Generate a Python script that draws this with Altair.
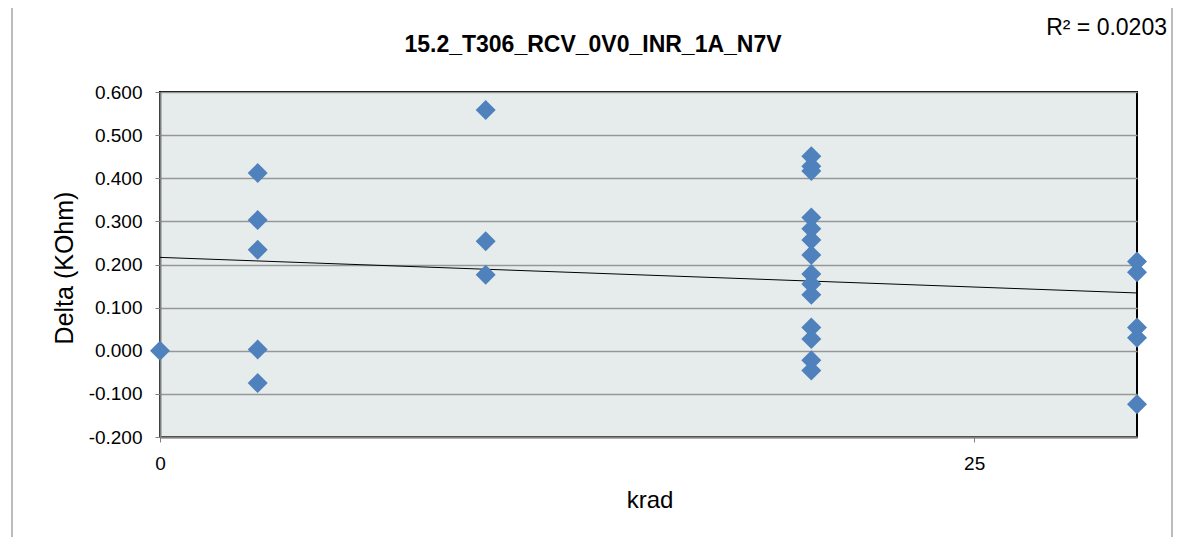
import altair as alt
import pandas as pd

# ---- data ----
krad = [0,
        3, 3, 3, 3, 3,
        10, 10, 10,
        20, 20, 20, 20, 20, 20, 20, 20, 20, 20, 20, 20, 20, 20,
        30, 30, 30, 30, 30]
delta = [0.000,
         0.412, 0.303, 0.234, 0.003, -0.075,
         0.558, 0.254, 0.176,
         0.451, 0.428, 0.417, 0.309, 0.283, 0.257, 0.222, 0.178, 0.155, 0.130,
         0.054, 0.027, -0.022, -0.046,
         0.207, 0.182, 0.054, 0.030, -0.124]

trend_x = [0, 30]
trend_y = [0.2165, 0.134]

title_text = "15.2_T306_RCV_0V0_INR_1A_N7V"
r2_text = "R² = 0.0203"
y_ticks = [-0.2, -0.1, 0.0, 0.1, 0.2, 0.3, 0.4, 0.5, 0.6]
x_ticks = [0, 25]

pts = pd.DataFrame({"krad": krad, "delta": delta})
trend = pd.DataFrame({"krad": trend_x, "delta": trend_y})

FONT = "Liberation Sans"
W, H = 977, 345

xscale = alt.Scale(domain=[0, 30], nice=False, zero=False)
yscale = alt.Scale(domain=[-0.2, 0.6], nice=False, zero=False)

xaxis = alt.Axis(values=x_ticks, title="krad", grid=False, labelFontSize=19,
                 labelFont=FONT, labelColor="#000000", labelPadding=12,
                 labelFlush=False,
                 tickSize=5, tickColor="#808080", domainColor="#808080",
                 domainWidth=2, titleFontSize=24, titleFont=FONT,
                 titleFontWeight="normal", titleColor="#000000",
                 titleX=W / 2 + 1, titleY=63, titleBaseline="middle",
                 titleAlign="center")
yaxis = alt.Axis(values=y_ticks, title="Delta (KOhm)",
                 labelExpr="replace(format(datum.value, '.3f'), '\u2212', '-')",
                 grid=True, gridColor="#969696", gridWidth=1.5,
                 labelFontSize=19, labelFont=FONT, labelColor="#000000",
                 labelPadding=13, tickSize=5, tickColor="#808080",
                 domainColor="#808080", domainWidth=2, titleFontSize=25,
                 titleFont=FONT, titleFontWeight="normal", titleColor="#000000",
                 titleX=-96, titleY=H / 2 + 3, titleAngle=-90,
                 titleBaseline="middle", titleAlign="center")

border = alt.Chart(pd.DataFrame({"a": [0]})).mark_rect(
    fill="#FFFFFF", fillOpacity=0, stroke="#A6A6A6", strokeWidth=1.5
).encode(x=alt.value(-148), x2=alt.value(1012), y=alt.value(-87), y2=alt.value(H + 120))

line = alt.Chart(trend).mark_line(color="#000000", strokeWidth=1).encode(
    x=alt.X("krad:Q", scale=xscale, axis=xaxis),
    y=alt.Y("delta:Q", scale=yscale, axis=yaxis),
)

points = alt.Chart(pts).mark_point(
    shape="diamond", filled=True, size=400, color="#4F81BD", opacity=1
).encode(
    x=alt.X("krad:Q", scale=xscale, axis=xaxis),
    y=alt.Y("delta:Q", scale=yscale, axis=yaxis),
)

title = alt.Chart(pd.DataFrame({"t": [title_text]})).mark_text(
    font=FONT, fontSize=23, fontWeight="bold", color="#000000",
    align="center", baseline="alphabetic"
).encode(text="t:N", x=alt.value(433), y=alt.value(-40))

r2 = alt.Chart(pd.DataFrame({"t": [r2_text]})).mark_text(
    font=FONT, fontSize=23, color="#000000", align="right", baseline="alphabetic"
).encode(text="t:N", x=alt.value(1007), y=alt.value(-57))

chart = alt.layer(border, line, points, title, r2).properties(
    width=W, height=H,
    autosize=alt.AutoSizeParams(type="none"),
    padding={"left": 152, "top": 84, "right": 36, "bottom": 100},
    background="#FFFFFF",
).configure_view(
    fill="#E6ECEC", stroke="#000000", strokeWidth=2
)

chart.save("out.html", embed_options={"renderer": "svg", "actions": False})
